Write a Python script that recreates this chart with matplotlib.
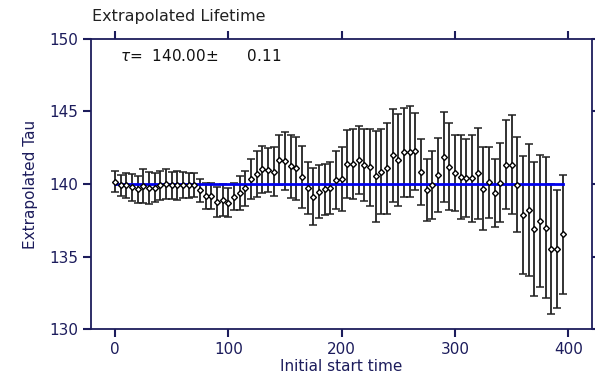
import matplotlib
matplotlib.use("Agg")
import matplotlib.pyplot as plt

# start times and extrapolated lifetimes
start_time = [0, 5, 10, 15, 20, 25, 30, 35, 40, 45,
              50, 55, 60, 65, 70, 75, 80, 85, 90, 95,
              100, 105, 110, 115, 120, 125, 130, 135, 140, 145,
              150, 155, 160, 165, 170, 175, 180, 185, 190, 195,
              200, 205, 210, 215, 220, 225, 230, 235, 240, 245,
              250, 255, 260, 265, 270, 275, 280, 285, 290, 295,
              300, 305, 310, 315, 320, 325, 330, 335, 340, 345,
              350, 355, 360, 365, 370, 375, 380, 385, 390, 395]
tau = [140.16, 139.90, 139.90, 139.78, 139.62, 139.86, 139.72, 139.73, 139.90, 140.00,
       139.90, 139.90, 139.95, 139.90, 139.90, 139.56, 139.15, 139.18, 138.75, 138.90,
       138.72, 139.13, 139.37, 139.71, 140.33, 140.70, 141.00, 140.97, 140.85, 141.65,
       141.60, 141.22, 141.08, 140.50, 139.70, 139.12, 139.47, 139.63, 139.70, 140.28,
       140.32, 141.36, 141.38, 141.66, 141.31, 141.15, 140.53, 140.85, 141.08, 141.97,
       141.66, 142.17, 142.23, 142.25, 140.82, 139.58, 139.93, 140.62, 141.87, 141.20,
       140.74, 140.50, 140.44, 140.39, 140.74, 139.66, 140.12, 139.36, 140.10, 141.34,
       141.34, 139.95, 137.86, 138.22, 136.89, 137.45, 136.99, 135.50, 135.52, 136.52]
tau_err = [0.71, 0.70, 0.85, 0.94, 0.95, 1.15, 1.09, 1.00, 1.02, 1.02,
           0.92, 0.98, 0.89, 0.89, 0.83, 0.80, 0.90, 0.92, 1.03, 1.10,
           1.00, 0.94, 1.15, 1.20, 1.38, 1.60, 1.59, 1.50, 1.67, 1.75,
           1.99, 2.16, 2.18, 2.13, 1.78, 1.95, 1.83, 1.78, 1.79, 2.02,
           2.20, 2.33, 2.43, 2.32, 2.46, 2.66, 3.14, 2.95, 3.15, 3.18,
           3.15, 3.07, 3.15, 2.67, 2.29, 2.13, 2.32, 2.57, 3.09, 3.02,
           2.63, 2.90, 2.69, 3.00, 3.14, 2.86, 2.44, 2.33, 2.70, 3.06,
           3.44, 3.28, 4.09, 4.53, 4.59, 4.55, 4.85, 4.49, 4.08, 4.10]

fit_tau = 140.00
fit_err = 0.11

navy = "#1c1c5c"

fig = plt.figure(figsize=(5.95, 3.77), dpi=100)
ax = fig.add_axes([0.153, 0.127, 0.842, 0.77])

# bars first, then the fit line over them, markers on top
ax.errorbar(start_time, tau, yerr=tau_err, fmt="none", ecolor="#222222",
            elinewidth=1.3, capsize=3, capthick=1.1, zorder=2)
ax.plot([start_time[0], start_time[-1]], [fit_tau, fit_tau],
        color="#0000ee", lw=2, zorder=3)
ax.plot(start_time, tau, "D", ms=3.0, mfc="white", mec="black", mew=1.0,
        zorder=4)

ax.set_xlim(-21.1, 421)
ax.set_ylim(130, 150)
ax.set_xticks([0, 100, 200, 300, 400])
ax.set_yticks([130, 135, 140, 145, 150])

for side in ["left", "right", "top", "bottom"]:
    ax.spines[side].set_color(navy)
    ax.spines[side].set_linewidth(1.3)
ax.tick_params(direction="out", length=6, width=1.5, color=navy,
               labelcolor=navy, labelsize=11, top=True, right=True)

ax.set_xlabel("Initial start time", color=navy, fontsize=11, labelpad=1)
ax.set_ylabel("Extrapolated Tau", color=navy, fontsize=11, labelpad=8)

fig.text(0.155, 0.955, "Extrapolated Lifetime", fontsize=11.5, color="#222222",
         va="center", ha="left")
ax.text(0.057, 0.94, rf"$\tau$=  {fit_tau:.2f}$\pm$      {fit_err:.2f}",
        transform=ax.transAxes, fontsize=11, color="#111111",
        va="center", ha="left")

fig.savefig("out.png", dpi=100)
